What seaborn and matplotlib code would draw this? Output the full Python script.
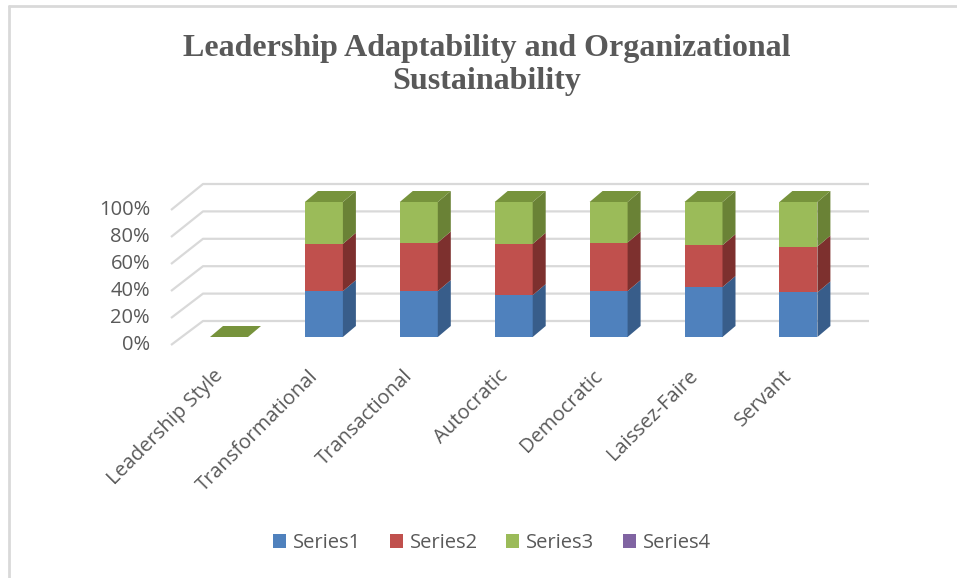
import matplotlib
matplotlib.use("Agg")
import matplotlib.pyplot as plt
import seaborn as sns
import pandas as pd
import numpy as np
from matplotlib.patches import Polygon, Patch
from matplotlib.lines import Line2D

# data (100% stacked shares)
categories = ["Leadership Style", "Transformational", "Transactional", "Autocratic",
              "Democratic", "Laissez-Faire", "Servant"]
series_names = ["Series1", "Series2", "Series3", "Series4"]
series1 = [0, 0.34, 0.34, 0.31, 0.34, 0.37, 0.33]
series2 = [0, 0.35, 0.36, 0.38, 0.36, 0.31, 0.34]
series3 = [0, 0.31, 0.30, 0.31, 0.30, 0.32, 0.33]
series4 = [0, 0, 0, 0, 0, 0, 0]
y_ticks = [0, 0.2, 0.4, 0.6, 0.8, 1.0]

front_colors = ["#4f81bd", "#c0504d", "#9bbb59", "#8064a2"]
side_colors = ["#385d8a", "#7d302e", "#6a8236", "#5c4776"]
top_color = "#77933c"
grid_color = "#d9d9d9"
text_color = "#595959"

df = pd.DataFrame({"category": categories, "Series1": series1, "Series2": series2,
                   "Series3": series3, "Series4": series4})
tot = df[series_names].sum(axis=1)
share = df[series_names].div(tot.replace(0, np.nan), axis=0).fillna(0)
cum = share.cumsum(axis=1)

sns.set_style("white")
plt.rcParams["font.family"] = ["Open Sans", "DejaVu Sans"]

W, H = 957, 578
fig = plt.figure(figsize=(W / 100, H / 100), dpi=100)

# axes box in pixels, and the pixel mapping of the bar plane
L, R, T, B = 150, 880, 170, 360
ax = fig.add_axes([L / W, 1 - B / H, (R - L) / W, (B - T) / H])
X0, Y0, SX, SY = 229, 337, 94.9, 135


def px(p):
    return (p - X0) / SX


def py(p):
    return (Y0 - p) / SY


# walls: front edge -> back wall -> across
for v in y_ticks:
    yf = v - 8 / SY
    yb = v * 137 / 135 + 16 / SY
    ax.plot([px(171), px(203), px(869)], [yf, yb, yb], color=grid_color, lw=1.6,
            zorder=0, solid_capstyle="butt")
    ax.text(px(150), yf, f"{int(round(v * 100))}%", ha="right", va="center",
            fontsize=14.5, color=text_color)

# front faces, drawn tallest cumulative first
BW = 38 / SX
for s, c in reversed(list(zip(series_names, front_colors))):
    if share[s].sum() == 0:
        continue
    sns.barplot(x=categories, y=cum[s].values, order=categories, color=c, saturation=1,
                width=BW, linewidth=0, errorbar=None, ax=ax, zorder=2)

# 3d side and top faces
DX, DY = 13 / SX, 11 / SY
for i in range(len(categories)):
    xr = i + BW / 2
    lo = 0
    for s, sc in zip(series_names, side_colors):
        hi = cum.loc[i, s]
        if hi > lo:
            ax.add_patch(Polygon([(xr, lo), (xr + DX, lo + DY), (xr + DX, hi + DY), (xr, hi)],
                                 closed=True, fc=sc, ec="none", zorder=2))
        lo = hi
    ax.add_patch(Polygon([(i - BW / 2, lo), (xr, lo), (xr + DX, lo + DY), (i - BW / 2 + DX, lo + DY)],
                         closed=True, fc=top_color, ec="none", zorder=2))

ax.set_xlim(px(L), px(R))
ax.set_ylim(py(B), py(T))
ax.axis("off")

# category labels under each bar
for i, c in enumerate(categories):
    ax.text(i - 2 / SX, py(366), c, rotation=45, ha="right", va="top",
            fontsize=14.5, color=text_color, clip_on=False)

fig.text(487 / W, 1 - 65 / H, "Leadership Adaptability and Organizational\nSustainability",
         ha="center", va="center", fontsize=23, fontweight="bold", family="Liberation Serif",
         color=text_color, linespacing=1.22)

handles = [Patch(fc=c, ec="none") for c in front_colors]
fig.legend(handles, series_names, loc="center", bbox_to_anchor=(492 / W, 1 - 543 / H), ncol=4,
           frameon=False, fontsize=14.5, handlelength=0.65, handleheight=0.65,
           handletextpad=0.35, columnspacing=1.4, labelcolor=text_color)

# chart border (partly outside the picture)
fig.add_artist(Line2D([9 / W, 9 / W], [0, 1 - 6 / H], transform=fig.transFigure, color=grid_color, lw=2))
fig.add_artist(Line2D([9 / W, 1], [1 - 6 / H, 1 - 6 / H], transform=fig.transFigure, color=grid_color, lw=2))

fig.savefig("out.png", dpi=100)
